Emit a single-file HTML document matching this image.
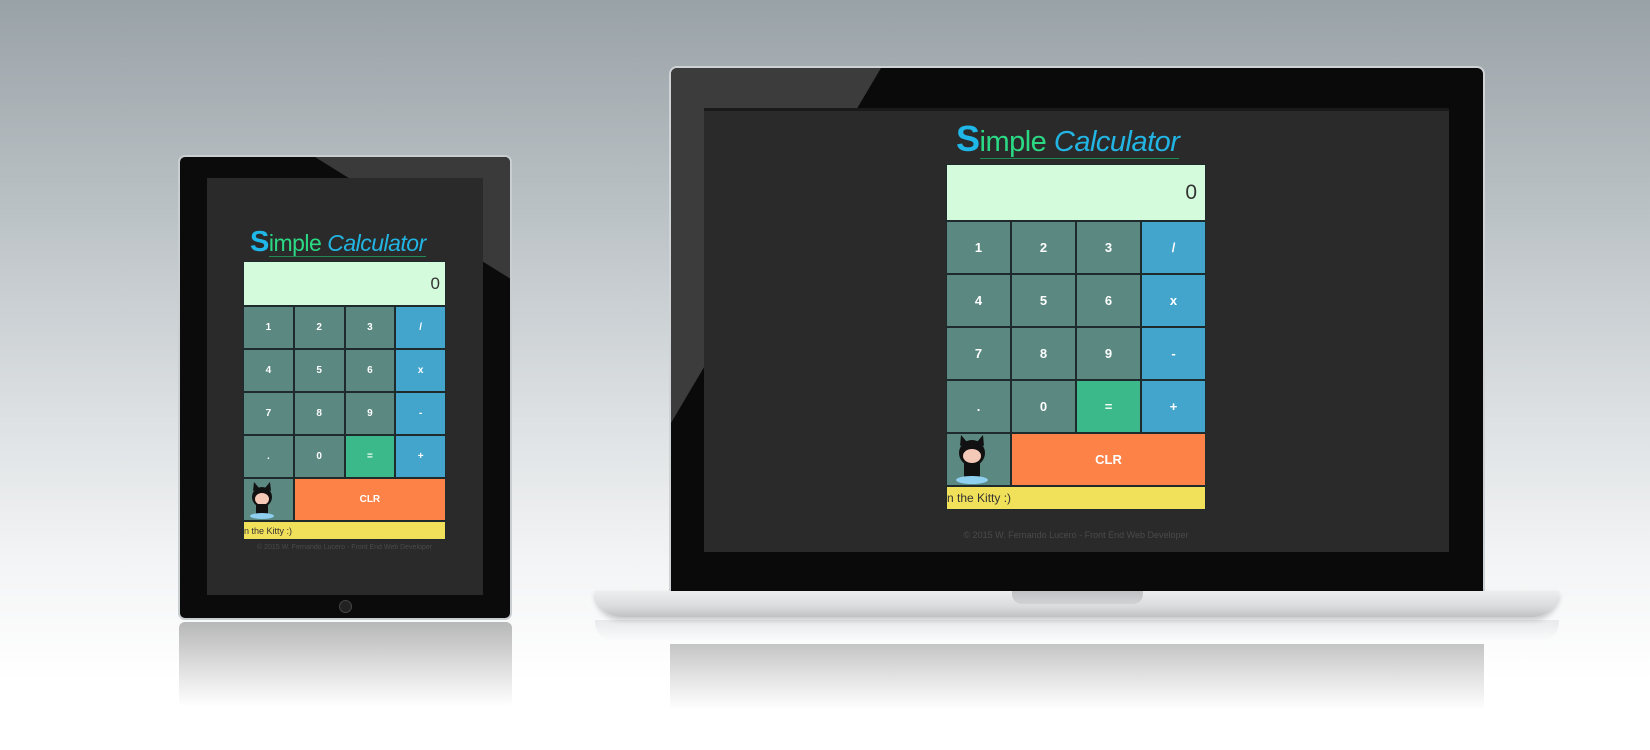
<!DOCTYPE html>
<html><head><meta charset="utf-8"><style>
*{margin:0;padding:0;box-sizing:border-box}
body{width:1650px;height:750px;overflow:hidden;position:relative;font-family:"Liberation Sans",sans-serif;
background:linear-gradient(#99a2a7 0px,#b9c0c4 200px,#dde1e3 420px,#f3f4f5 560px,#fff 680px)}
.a{position:absolute}
.calc{position:absolute;display:grid;grid-template-columns:repeat(4,1fr);background:#1e2a2c;gap:2px;padding:1px}
.calc div{display:flex;align-items:center;justify-content:center;color:#fff;font-weight:bold}
.g{background:#5b8880}.b{background:#43a5cc}.e{background:#3bb98a}.o{background:#fc8248}
.disp{grid-column:1/5;background:#d4fcdc;justify-content:flex-end!important;color:#333!important;font-weight:normal!important}
.kit{background:#5b8880;justify-content:flex-start!important;overflow:hidden}
.clr{grid-column:2/5}
.y{grid-column:1/5;background:#f1e05a;color:#333!important;font-weight:normal!important;justify-content:flex-start!important}
.title{position:absolute;white-space:nowrap;color:#1dbfe0;letter-spacing:-0.5px}
.title .s{color:#1fb6e8;font-weight:bold}.title .m{color:#2bd985}.title i{color:#22b5e3}
.title u{text-decoration:none;border-bottom:1px solid #1f8a55}
.foot{position:absolute;color:#4a4a4a;white-space:nowrap;text-align:center}
</style></head><body>

<!-- tablet reflection -->
<div class="a" style="left:179px;top:622px;width:333px;height:85px;background:linear-gradient(rgba(60,60,60,.35),rgba(255,255,255,0));border-radius:6px"></div>
<!-- tablet -->
<div class="a" style="left:178px;top:155px;width:334px;height:465px;background:#0b0b0b;border-radius:7px;border:2px solid #c9ced1;overflow:hidden">
  <div class="a" style="left:0;top:0;width:334px;height:465px;background:#3a3a3a;clip-path:polygon(135px 0,334px 0,334px 124px)"></div>
</div>
<div class="a" style="left:207px;top:178px;width:276px;height:417px;background:#2a2a2a"></div>
<div class="a" style="left:339px;top:600px;width:13px;height:13px;border-radius:50%;background:#222;border:1px solid #444"></div>
<div class="title" style="left:250px;top:226px;font-size:23px"><span class="s" style="font-size:29px">S</span><u><span class="m">imple</span> <i>Calculator</i></u></div>
<div class="calc" style="left:243px;top:261px;width:203px;grid-template-rows:43px 41px 41px 41px 41px 41px 17px;font-size:10px">
<div class="disp" style="font-size:17px;padding-right:5px">0</div>
<div class="g">1</div><div class="g">2</div><div class="g">3</div><div class="b">/</div>
<div class="g">4</div><div class="g">5</div><div class="g">6</div><div class="b">x</div>
<div class="g">7</div><div class="g">8</div><div class="g">9</div><div class="b">-</div>
<div class="g">.</div><div class="g">0</div><div class="e">=</div><div class="b">+</div>
<div class="kit"><svg width="48" height="41"><circle cx="18" cy="18" r="10" fill="#111"/><polygon points="9,12 10,3 15,9" fill="#111"/><polygon points="27,12 26,3 21,9" fill="#111"/><ellipse cx="18" cy="20" rx="7" ry="6" fill="#f5c9b8"/><rect x="12" y="25" width="12" height="10" fill="#111"/><ellipse cx="18" cy="37" rx="12" ry="3" fill="#8fd0f0"/></svg></div>
<div class="o clr">CLR</div>
<div class="y" style="font-size:9px">n the Kitty :)</div>
</div>
<div class="foot" style="left:243px;top:544px;width:203px;font-size:7px">© 2015 W. Fernando Lucero - Front End Web Developer</div>

<!-- laptop reflection -->
<div class="a" style="left:595px;top:620px;width:964px;height:22px;background:linear-gradient(rgba(225,227,229,.7),rgba(255,255,255,.2));border-radius:0 0 20px 20px"></div>
<div class="a" style="left:670px;top:644px;width:814px;height:66px;background:linear-gradient(rgba(70,70,70,.3),rgba(255,255,255,0))"></div>
<!-- laptop lid -->
<div class="a" style="left:669px;top:66px;width:816px;height:528px;background:#0a0a0a;border:2px solid #cfd3d6;border-radius:8px 8px 0 0;overflow:hidden">
  <div class="a" style="left:0;top:0;width:816px;height:528px;background:#3c3c3c;clip-path:polygon(0 0,210px 0,0 355px)"></div>
</div>
<div class="a" style="left:704px;top:108px;width:745px;height:444px;background:#2a2a2a;border-top:3px solid #1a1a1a"></div>
<!-- base -->
<div class="a" style="left:595px;top:591px;width:964px;height:26px;background:linear-gradient(#eceeef,#d9dbdd 60%,#bfc2c4);border-radius:0 0 26px 26px;box-shadow:0 3px 6px rgba(0,0,0,.2)"></div>
<div class="a" style="left:1012px;top:591px;width:131px;height:13px;background:linear-gradient(#bfc1c4,#d0d2d4);border-radius:0 0 10px 10px"></div>

<div class="title" style="left:956px;top:118px;font-size:29px"><span class="s" style="font-size:36px">S</span><u><span class="m">imple</span> <i>Calculator</i></u></div>
<div class="calc" style="left:946px;top:164px;width:260px;grid-template-rows:55px 51px 51px 51px 51px 51px 22px;font-size:13px">
<div class="disp" style="font-size:21px;padding-right:8px">0</div>
<div class="g">1</div><div class="g">2</div><div class="g">3</div><div class="b">/</div>
<div class="g">4</div><div class="g">5</div><div class="g">6</div><div class="b">x</div>
<div class="g">7</div><div class="g">8</div><div class="g">9</div><div class="b">-</div>
<div class="g">.</div><div class="g">0</div><div class="e">=</div><div class="b">+</div>
<div class="kit"><svg width="63" height="51"><circle cx="25" cy="19" r="13" fill="#111"/><polygon points="13,12 14,1 20,8" fill="#111"/><polygon points="37,12 36,1 30,8" fill="#111"/><ellipse cx="25" cy="22" rx="9" ry="7" fill="#f5c9b8"/><rect x="17" y="29" width="16" height="14" fill="#111"/><ellipse cx="25" cy="46" rx="16" ry="4" fill="#8fd0f0"/></svg></div>
<div class="o clr">CLR</div>
<div class="y" style="font-size:12px">n the Kitty :)</div>
</div>
<div class="foot" style="left:946px;top:530px;width:260px;font-size:9px">© 2015 W. Fernando Lucero - Front End Web Developer</div>
</body></html>
